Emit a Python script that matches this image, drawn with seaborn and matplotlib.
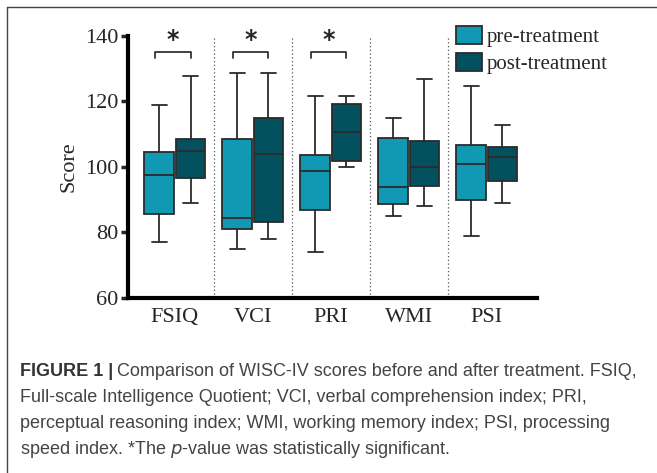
import matplotlib

matplotlib.use("Agg")

import matplotlib.pyplot as plt
import numpy as np
import pandas as pd
import seaborn as sns
from matplotlib.lines import Line2D
from matplotlib.patches import Patch

# WISC-IV indices
categories = ["FSIQ", "VCI", "PRI", "WMI", "PSI"]

# five-number summaries (whisker low, Q1, median, Q3, whisker high)
pre_low = [77, 75, 74, 85, 79]
pre_q1 = [85.6, 81, 87, 88.8, 89.8]
pre_median = [97.4, 84.4, 98.8, 94, 100.8]
pre_q3 = [104.5, 108.6, 103.8, 108.8, 106.8]
pre_high = [118.8, 128.8, 121.8, 114.8, 124.8]

post_low = [89, 78, 100, 88, 89]
post_q1 = [96.7, 83.3, 101.9, 94.1, 95.7]
post_median = [104.8, 103.9, 110.8, 100, 102.9]
post_q3 = [108.6, 114.8, 119.1, 108, 106]
post_high = [127.8, 128.8, 121.8, 126.8, 112.8]

significant = ["FSIQ", "VCI", "PRI"]

PRE_COLOR = "#1199B4"
POST_COLOR = "#03505F"
EDGE_COLOR = "#2b2b2b"

caption_lines = [
    "Comparison of WISC-IV scores before and after treatment. FSIQ,",
    "Full-scale Intelligence Quotient; VCI, verbal comprehension index; PRI,",
    "perceptual reasoning index; WMI, working memory index; PSI, processing",
    "speed index. *The $\\it{p}$-value was statistically significant.",
]


def build_frame() -> pd.DataFrame:
    rows = []
    groups = {
        "pre-treatment": (pre_low, pre_q1, pre_median, pre_q3, pre_high),
        "post-treatment": (post_low, post_q1, post_median, post_q3, post_high),
    }
    for condition, stats in groups.items():
        for i, category in enumerate(categories):
            # five points give exactly these quartiles with linear interpolation
            for value in (s[i] for s in stats):
                rows.append({"index": category, "condition": condition, "score": value})
    return pd.DataFrame(rows)


def main() -> None:
    sns.set_style("white")
    plt.rcParams["font.family"] = ["Liberation Serif", "DejaVu Serif"]

    fig = plt.figure(figsize=(6.57, 4.73), dpi=100)
    ax = fig.add_axes([0.195, 0.370, 0.622, 0.554])

    df = build_frame()
    sns.boxplot(
        data=df,
        x="index",
        y="score",
        hue="condition",
        order=categories,
        hue_order=["pre-treatment", "post-treatment"],
        palette=[PRE_COLOR, POST_COLOR],
        whis=(0, 100),
        width=0.8,
        gap=0.05,
        linecolor=EDGE_COLOR,
        linewidth=1.3,
        showfliers=False,
        saturation=1,
        ax=ax,
    )

    ax.set_ylim(60, 140)
    ax.set_xlim(-0.6, 4.64)
    ax.set_yticks(np.arange(60, 141, 20))
    ax.set_xlabel("")
    ax.set_ylabel("Score", fontsize=16, labelpad=5)
    ax.tick_params(axis="y", labelsize=16, length=5, width=2.5, direction="out", left=True, pad=2)
    ax.tick_params(axis="x", labelsize=16, length=0, pad=7)

    for side in ("top", "right"):
        ax.spines[side].set_visible(False)
    for side in ("left", "bottom"):
        ax.spines[side].set_linewidth(3)
        ax.spines[side].set_color("black")

    # dotted separators between indices
    for i in range(len(categories) - 1):
        ax.axvline(i + 0.5, color="#555555", linestyle=(0, (1, 2)), linewidth=0.9, zorder=0)

    # significance brackets
    for name in significant:
        i = categories.index(name)
        x0, x1 = i - 0.25, i + 0.2
        ax.plot([x0, x0, x1, x1], [133.4, 135, 135, 133.4], color="#333333", lw=1.3, clip_on=False)
        ax.text((x0 + x1) / 2, 138.8, "*", ha="center", va="center", fontsize=17,
                fontweight="bold", family="DejaVu Sans", clip_on=False)

    ax.get_legend().remove()
    handles = [
        Patch(facecolor=PRE_COLOR, edgecolor=EDGE_COLOR, linewidth=1.3, label="pre-treatment"),
        Patch(facecolor=POST_COLOR, edgecolor=EDGE_COLOR, linewidth=1.3, label="post-treatment"),
    ]
    fig.legend(
        handles=handles,
        loc="upper left",
        bbox_to_anchor=(0.665, 0.984),
        frameon=False,
        fontsize=15,
        handlelength=1.25,
        handleheight=0.95,
        handletextpad=0.25,
        labelspacing=0.25,
    )

    # frame around the figure panel
    fig.add_artist(Line2D([7 / 657, 7 / 657], [0, 1 - 7 / 473], color="#444444", lw=1.0))
    fig.add_artist(Line2D([7 / 657, 1], [1 - 7 / 473, 1 - 7 / 473], color="#444444", lw=1.0))

    # caption
    sans = ["Liberation Sans", "DejaVu Sans"]
    size = 13.0
    y0 = 1 - 371 / 473
    step = 26.0 / 473
    bold = fig.text(20 / 657, y0, "FIGURE 1 |", fontsize=size, fontweight="bold", color="#333333",
                    family=sans, va="center")
    fig.canvas.draw()
    bbox = bold.get_window_extent()
    fig.text((bbox.x1 + 4) / 657, y0, caption_lines[0], fontsize=size, color="#444444",
             family=sans, va="center")
    for k, line in enumerate(caption_lines[1:], start=1):
        fig.text(20 / 657, y0 - k * step, line, fontsize=size, color="#444444", family=sans, va="center")

    fig.savefig("out.png", dpi=100)
    plt.close(fig)


if __name__ == "__main__":
    main()
